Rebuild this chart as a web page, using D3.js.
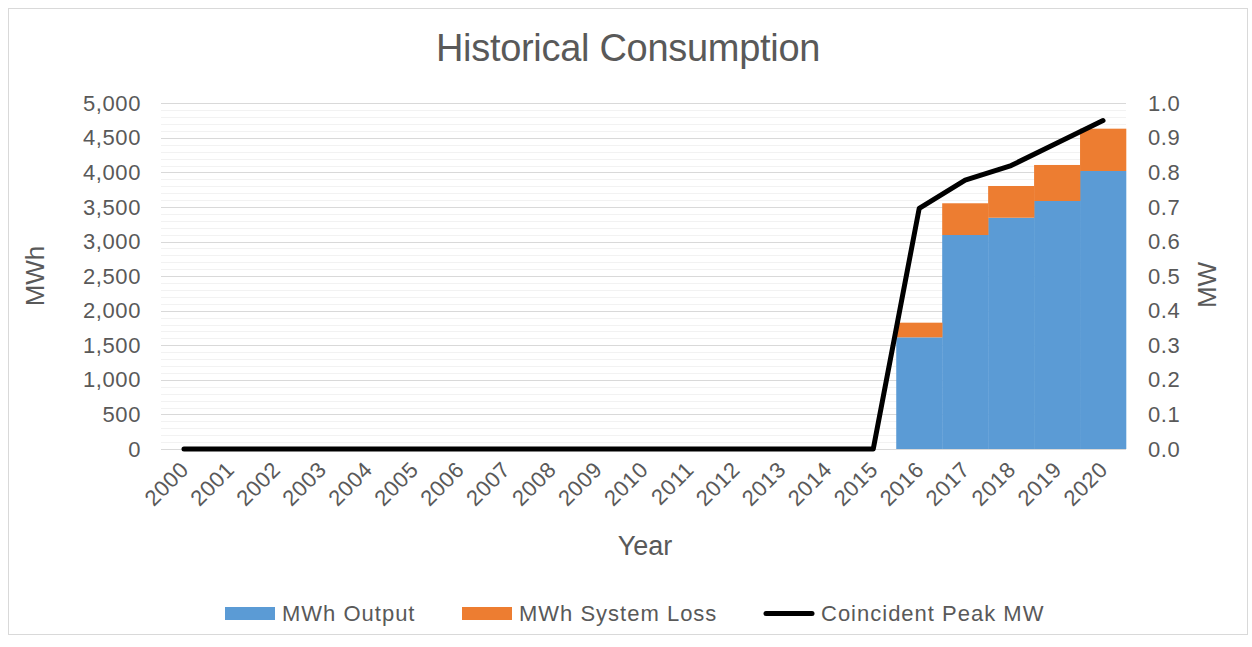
<!DOCTYPE html>
<html>
<head>
<meta charset="utf-8">
<script src="https://cdn.jsdelivr.net/npm/d3@7"></script>
<style>
body { margin: 0; background: #fff; }
text { font-family: "Liberation Sans", Arial, sans-serif; fill: #595959; }
</style>
</head>
<body>
<div class="container"></div>
<script>
const WIDTH = 1252;
const HEIGHT = 647;
const LEFT = 161, RIGHT = 1126, TOP = 103.3, BOTTOM = 449;

var years = ["2000","2001","2002","2003","2004","2005","2006","2007","2008","2009","2010",
             "2011","2012","2013","2014","2015","2016","2017","2018","2019","2020"];
var output = [0,0,0,0,0,0,0,0,0,0,0,0,0,0,0,0,1615,3095,3345,3587,4021];
var loss   = [0,0,0,0,0,0,0,0,0,0,0,0,0,0,0,0,212,459,459,521,612];
var peak   = [0,0,0,0,0,0,0,0,0,0,0,0,0,0,0,0,0.696,0.778,0.82,0.885,0.95];
var leftTicks = [0,500,1000,1500,2000,2500,3000,3500,4000,4500,5000];
var rightTicks = [0,0.1,0.2,0.3,0.4,0.5,0.6,0.7,0.8,0.9,1.0];

var svg = d3.select(".container").append("svg")
    .attr("width", WIDTH)
    .attr("height", HEIGHT);

// outer border
svg.append("rect")
    .attr("x", 8.5).attr("y", 8.5)
    .attr("width", 1239).attr("height", 626)
    .attr("fill", "none")
    .attr("stroke", "#d9d9d9");

var x = d3.scaleBand().domain(years).range([LEFT, RIGHT]).padding(0);
var y = d3.scaleLinear().domain([0, 5000]).range([BOTTOM, TOP]);
var y2 = d3.scaleLinear().domain([0, 1]).range([BOTTOM, TOP]);

// minor gridlines
var minor = d3.range(0, 5001, 100).filter(function(v){ return v % 500 != 0; });
svg.append("g").selectAll("line").data(minor).join("line")
    .attr("x1", LEFT).attr("x2", RIGHT)
    .attr("y1", function(d){ return Math.round(y(d)) + 0.5; })
    .attr("y2", function(d){ return Math.round(y(d)) + 0.5; })
    .attr("stroke", "#f2f2f2");

// major gridlines
svg.append("g").selectAll("line").data(leftTicks).join("line")
    .attr("x1", LEFT).attr("x2", RIGHT)
    .attr("y1", function(d){ return Math.round(y(d)) + 0.5; })
    .attr("y2", function(d){ return Math.round(y(d)) + 0.5; })
    .attr("stroke", "#d9d9d9");

// stacked bars
var stackData = years.map(function(yr, i){ return {year: yr, output: output[i], loss: loss[i]}; });
var series = d3.stack().keys(["output", "loss"])(stackData);
var colors = {output: "#5b9bd5", loss: "#ed7d31"};

svg.append("g").selectAll("g").data(series).join("g")
    .attr("fill", function(d){ return colors[d.key]; })
    .selectAll("rect").data(function(d){ return d; }).join("rect")
    .attr("x", function(d){ return x(d.data.year); })
    .attr("width", x.bandwidth() + 0.3)
    .attr("y", function(d){ return y(d[1]); })
    .attr("height", function(d){ return y(d[0]) - y(d[1]); });

// peak line
var line = d3.line()
    .x(function(d, i){ return x(years[i]) + x.bandwidth() / 2; })
    .y(function(d){ return y2(d); });
svg.append("path")
    .datum(peak)
    .attr("d", line)
    .attr("fill", "none")
    .attr("stroke", "#000")
    .attr("stroke-width", 5)
    .attr("stroke-linecap", "round")
    .attr("stroke-linejoin", "round");

var tickStyle = function(sel){
    sel.style("font-size", "22px")
        .style("letter-spacing", "0.6px")
        .style("font-family", "'Liberation Sans', Arial, sans-serif")
        .attr("fill", "#595959");
}

// left axis
var leftAxis = d3.axisLeft(y).tickValues(leftTicks).tickSize(0).tickPadding(20)
    .tickFormat(d3.format(","));
var gl = svg.append("g").attr("transform", "translate(" + LEFT + ",0)").call(leftAxis);
gl.select(".domain").remove();
gl.selectAll("text").call(tickStyle);

// right axis
var rightAxis = d3.axisRight(y2).tickValues(rightTicks).tickSize(0).tickPadding(22)
    .tickFormat(d3.format(".1f"));
var gr = svg.append("g").attr("transform", "translate(" + RIGHT + ",0)").call(rightAxis);
gr.select(".domain").remove();
gr.selectAll("text").call(tickStyle);

// x axis
var xAxis = d3.axisBottom(x).tickSize(0).tickPadding(0);
var gx = svg.append("g").attr("transform", "translate(0," + BOTTOM + ")").call(xAxis);
gx.select(".domain").remove();
gx.selectAll("text")
    .call(tickStyle)
    .attr("text-anchor", "end")
    .attr("dy", null)
    .attr("y", 0)
    .attr("transform", "translate(6,22) rotate(-45)");

// titles
svg.append("text")
    .attr("x", 628).attr("y", 61)
    .attr("text-anchor", "middle")
    .style("font-size", "38px")
    .style("letter-spacing", "-0.3px")
    .text("Historical Consumption");

svg.append("text")
    .attr("transform", "translate(44,276) rotate(-90)")
    .attr("text-anchor", "middle")
    .style("font-size", "26px")
    .text("MWh");

svg.append("text")
    .attr("transform", "translate(1216,285) rotate(-90)")
    .attr("text-anchor", "middle")
    .style("font-size", "26px")
    .text("MW");

svg.append("text")
    .attr("x", 645).attr("y", 555)
    .attr("text-anchor", "middle")
    .style("font-size", "27px")
    .text("Year");

// legend
var legendItems = [
    {label: "MWh Output", color: "#5b9bd5", type: "rect", x: 225},
    {label: "MWh System Loss", color: "#ed7d31", type: "rect", x: 462},
    {label: "Coincident Peak MW", color: "#000", type: "line", x: 764}
];
var lg = svg.append("g");
legendItems.forEach(function(item){
    if (item.type == "rect") {
        lg.append("rect")
            .attr("x", item.x).attr("y", 607)
            .attr("width", 50).attr("height", 13)
            .attr("fill", item.color);
    } else {
        lg.append("line")
            .attr("x1", item.x + 2).attr("x2", item.x + 48)
            .attr("y1", 613.5).attr("y2", 613.5)
            .attr("stroke", item.color)
            .attr("stroke-width", 5)
            .attr("stroke-linecap", "round");
    }
    lg.append("text")
        .attr("x", item.x + 57).attr("y", 621)
        .style("font-size", "22px")
        .style("letter-spacing", "1px")
        .text(item.label);
});
</script>
</body>
</html>
